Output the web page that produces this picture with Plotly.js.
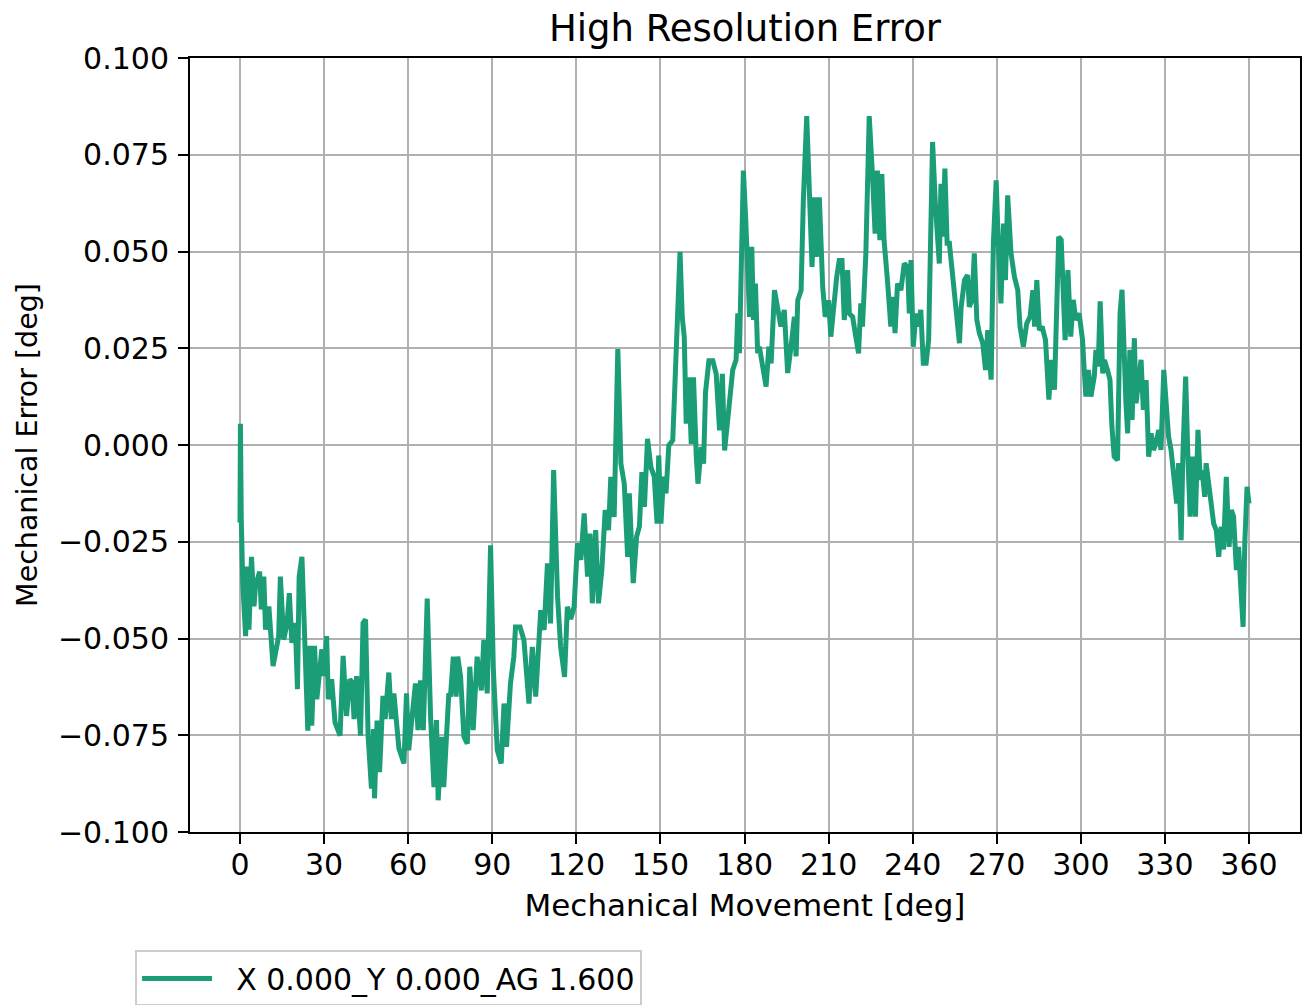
<!DOCTYPE html>
<html>
<head>
<meta charset="utf-8">
<script src="https://cdn.plot.ly/plotly-3.0.1.min.js"></script>
<style>html,body{margin:0;padding:0;background:#fff;}#chart{width:1304px;height:1005px;}</style>
</head>
<body>
<div id="chart"></div>
<script>
var angle = [0,0.15,0.45,1.0,1.5,2.0,2.6,3.2,4.1,5.0,5.5,7.0,7.6,8.5,9.1,10.3,11.8,13.2,13.8,14.4,15.6,16.8,17.6,18.5,19.7,20.5,21.1,22.1,23.5,24.2,25.0,25.6,26.6,27.4,29.2,30,30.9,31.5,32.7,33.9,35.7,36.8,38.0,39.2,40,40.7,41.6,43.0,43.9,44.8,45.7,46.9,47.6,48.0,48.9,49.8,51.0,51.8,53.1,54.0,
54.9,56.7,58.5,59.4,60.2,61.4,62.6,63.5,64.4,65.4,66.8,68.0,69.2,70.1,70.7,71.9,72.7,74.5,75.1,76.1,77.1,77.7,78.7,79.9,81.1,82.0,83.2,84.6,86.1,87.0,88.2,89.4,90.4,91.8,93.2,94.2,95.1,96.5,97.7,98.3,99.9,101.3,103.1,104.3,105.5,107.3,108.5,109.7,110.8,111.9,113.3,114.4,115.8,116.8,
118.0,119.2,120.4,121.6,122.8,124.0,124.9,125.7,126.9,127.9,129.1,130.3,131.5,132.3,133.5,134.8,135.9,137.1,138.3,138.9,140.3,141.5,142.5,143.4,144.3,145.4,146.6,147.8,148.8,149.4,150.2,151.1,152.0,153.0,154.4,155.0,156.0,157.0,157.8,158.5,159.2,160.1,161.0,161.8,162.8,163.4,164.6,165.4,166.1,167.3,168.7,169.9,171.1,172.1,172.9,174.1,
175.8,177.0,177.6,178.2,179.6,180.4,181.2,181.8,182.6,183.2,183.9,184.7,185.3,186.5,187.7,188.7,189.5,190.7,191.9,193.0,194.2,195.4,196.6,197.8,198.4,199.0,200.2,201.0,202.2,203.1,204.1,204.9,205.7,206.7,207.9,208.8,210.0,210.8,212.0,212.9,213.8,214.8,215.6,216.8,217.4,218.6,219.5,220.7,221.5,222.1,223.3,224.5,225.7,226.6,227.4,228.3,229.0,229.8,231.0,232.2,233.1,233.7,234.6,
235.8,237.0,238.2,238.8,239.4,240.2,241.2,242.1,242.9,243.8,244.8,245.7,246.3,247.1,248.1,248.9,249.5,250.1,250.7,251.5,252.3,253.1,254.3,255.2,256.1,256.7,257.3,258.5,259.6,260.2,261.2,262.0,262.9,263.8,265.0,266.0,266.8,267.4,268.0,268.8,269.8,270.5,271.5,272.4,273.1,273.9,275.1,276.3,277.5,278.3,279.5,280.7,281.9,282.9,283.5,284.3,285.2,286.2,287.4,288.6,289.4,290.6,291.4,292.1,293.0,293.6,294.4,295.4,
296.4,297.3,298.2,299.4,300.6,301.2,301.8,302.7,303.6,304.8,305.4,306.2,306.9,307.8,308.4,309.5,310.4,311.1,311.9,313.1,314.0,314.7,315.5,316.1,316.7,317.5,318.3,319.1,319.7,320.6,321.5,322.3,323.3,324.2,325.1,325.9,326.8,327.8,328.6,329.6,330.4,331.3,332.2,333.1,334.2,334.9,335.8,336.4,337.4,338.2,339.0,340.0,340.9,341.8,342.6,343.3,344.2,344.7,345.7,346.5,347.4,348.3,349.2,350.1,350.9,351.9,352.9,353.7,354.5,355.5,356.3,357.0,357.9,358.5,359.3,360.0];

var error = [-0.02,0.0055,-0.019,-0.036,-0.047,-0.0494,-0.0314,-0.0477,-0.0289,-0.0417,-0.0366,-0.0327,-0.0425,-0.034,-0.0477,-0.0417,-0.0571,-0.0511,-0.0494,-0.034,-0.0503,-0.046,-0.0383,-0.0511,-0.046,-0.0631,-0.034,-0.0289,-0.0597,-0.0738,-0.0519,-0.0725,-0.0519,-0.0657,-0.0528,-0.0597,-0.0494,-0.0657,-0.0605,-0.0717,-0.0751,-0.0545,-0.070,-0.0605,-0.0614,-0.0708,-0.0597,-0.0751,-0.046,-0.0451,-0.0751,-0.0888,-0.0734,-0.0913,-0.0712,-0.0845,-0.0648,-0.0708,-0.0588,-0.0708,
-0.0642,-0.0784,-0.0823,-0.0642,-0.0789,-0.0685,-0.0616,-0.0737,-0.0608,-0.0737,-0.0397,-0.0703,-0.0884,-0.0711,-0.0918,-0.0754,-0.0884,-0.0642,-0.065,-0.0547,-0.065,-0.0547,-0.0599,-0.0754,-0.0772,-0.0573,-0.0737,-0.0547,-0.0634,-0.0504,-0.0642,-0.0259,-0.0582,-0.0789,-0.0823,-0.0668,-0.078,-0.0616,-0.0547,-0.047,-0.047,-0.0504,-0.0668,-0.0522,-0.065,-0.0427,-0.0478,-0.0306,-0.0461,-0.0065,-0.0392,-0.0522,-0.0599,-0.0418,
-0.045,-0.0418,-0.0254,-0.0297,-0.0177,-0.034,-0.0229,-0.0409,-0.022,-0.0409,-0.0323,-0.0168,-0.022,-0.0082,-0.0186,0.0248,-0.0048,-0.010,-0.0289,-0.0125,-0.0357,-0.0237,-0.0211,-0.007,-0.016,0.0016,-0.0057,-0.0082,-0.0203,-0.0027,-0.0203,-0.0082,-0.0125,-0.0001,0.0012,0.0124,0.030,0.0499,0.033,0.028,0.0055,0.0175,0.0003,0.0175,-0.0031,-0.010,-0.0005,-0.0048,0.0137,0.0218,0.0218,0.0184,0.0038,0.0184,-0.0014,0.0064,
0.0194,0.022,0.034,0.0237,0.0709,0.0589,0.0374,0.0331,0.0512,0.0323,0.0417,0.0237,0.0254,0.0203,0.0151,0.0254,0.0211,0.040,0.034,0.0306,0.0349,0.0186,0.0254,0.0331,0.0229,0.0374,0.040,0.0632,0.085,0.0649,0.046,0.064,0.0486,0.064,0.0409,0.0331,0.0374,0.028,0.0383,0.0434,0.0477,0.0477,0.0323,0.0452,0.034,0.0331,0.0289,0.0237,0.0366,0.0306,0.0494,0.085,0.0692,0.0546,0.0709,0.0529,0.070,0.0529,0.0426,0.0306,0.0383,0.0289,0.0417,
0.040,0.0469,0.046,0.034,0.0478,0.0254,0.034,0.0306,0.0349,0.0211,0.0211,0.0271,0.0495,0.0783,0.0624,0.0512,0.0469,0.0675,0.0538,0.0714,0.0521,0.0521,0.0426,0.0375,0.0306,0.0263,0.0357,0.0426,0.0439,0.0357,0.0375,0.0495,0.0323,0.0289,0.0263,0.0194,0.0297,0.0229,0.0169,0.0521,0.0684,0.053,0.0366,0.0572,0.0426,0.0645,0.0495,0.0435,0.040,0.0306,0.0254,0.0314,0.0332,0.040,0.0306,0.0426,0.0297,0.0306,0.0271,0.0117,0.022,0.0143,0.0426,0.0538,0.053,0.0392,0.0271,0.0452,
0.028,0.0375,0.0323,0.034,0.0272,0.0194,0.0125,0.0194,0.0125,0.0177,0.0246,0.0203,0.0371,0.0185,0.022,0.0194,0.0168,0.0047,-0.003,-0.0039,0.034,0.0401,0.0177,0.0108,0.003,0.0246,0.0065,0.0276,0.0108,0.016,0.022,0.0091,0.0168,-0.003,0.003,-0.0013,0.0004,0.0039,-0.0013,0.0194,0.0091,0.0022,-0.0013,-0.0065,-0.0151,-0.0047,-0.0246,-0.003,0.0177,-0.003,-0.0185,-0.003,-0.0185,0.0039,-0.009,-0.0065,-0.0134,-0.0047,-0.0116,-0.0151,-0.0203,-0.022,-0.0289,-0.0211,-0.027,-0.0082,-0.0263,-0.0168,-0.0185,-0.0323,-0.0263,-0.0358,-0.047,-0.0254,-0.0108,-0.0151];

var xTicks = [0,30,60,90,120,150,180,210,240,270,300,330,360];
var yTicks = [-0.1,-0.075,-0.05,-0.025,0,0.025,0.05,0.075,0.1];
var seriesName = "X 0.000_Y 0.000_AG 1.600";

var font = "DejaVu Sans, Liberation Sans, sans-serif";

var trace = {
  x: angle, y: error, type: "scatter", mode: "lines",
  name: "\u00a0\u00a0" + seriesName,
  line: {color: "#1b9e77", width: 5}
};

var axisCommon = {
  showline: true, linecolor: "#000", linewidth: 2, mirror: true,
  ticks: "outside", ticklen: 10, tickwidth: 2, tickcolor: "#000",
  showgrid: true, gridcolor: "#b0b0b0", gridwidth: 2,
  zeroline: false, tickfont: {family: font, size: 30, color: "#000"}
};

var layout = {
  width: 1304, height: 1005,
  paper_bgcolor: "#fff", plot_bgcolor: "#fff",
  margin: {l: 190, r: 4, t: 58, b: 173, autoexpand: false},
  font: {family: font, color: "#000"},
  title: {text: "High Resolution Error", font: {family: font, size: 37, color: "#000"},
          x: 0.5, xref: "paper", xanchor: "center", y: 0.972, yref: "container", yanchor: "middle"},
  xaxis: Object.assign({}, axisCommon, {
    range: [-17.84, 378.2], tickmode: "array", tickvals: xTicks, ticktext: xTicks.map(String),
    ticklabelstandoff: -5,
    title: {text: "Mechanical Movement [deg]", font: {family: font, size: 31, color: "#000"}, standoff: 13}
  }),
  yaxis: Object.assign({}, axisCommon, {
    range: [-0.1, 0.1], tickmode: "array", tickvals: yTicks, tickformat: ".3f",
    ticklabelstandoff: 3,
    title: {text: "Mechanical Error [deg]", font: {family: font, size: 28.5, color: "#000"}, standoff: 12}
  }),
  showlegend: true,
  legend: {x: -0.0495, xanchor: "left", y: -0.153, yanchor: "top", xref: "paper", yref: "paper",
           bgcolor: "#fff", bordercolor: "#cccccc", borderwidth: 2,
           font: {family: font, size: 30, color: "#000"}, itemwidth: 70}
};

Plotly.newPlot("chart", [trace], layout, {displayModeBar: false, staticPlot: true});
</script>
</body>
</html>
